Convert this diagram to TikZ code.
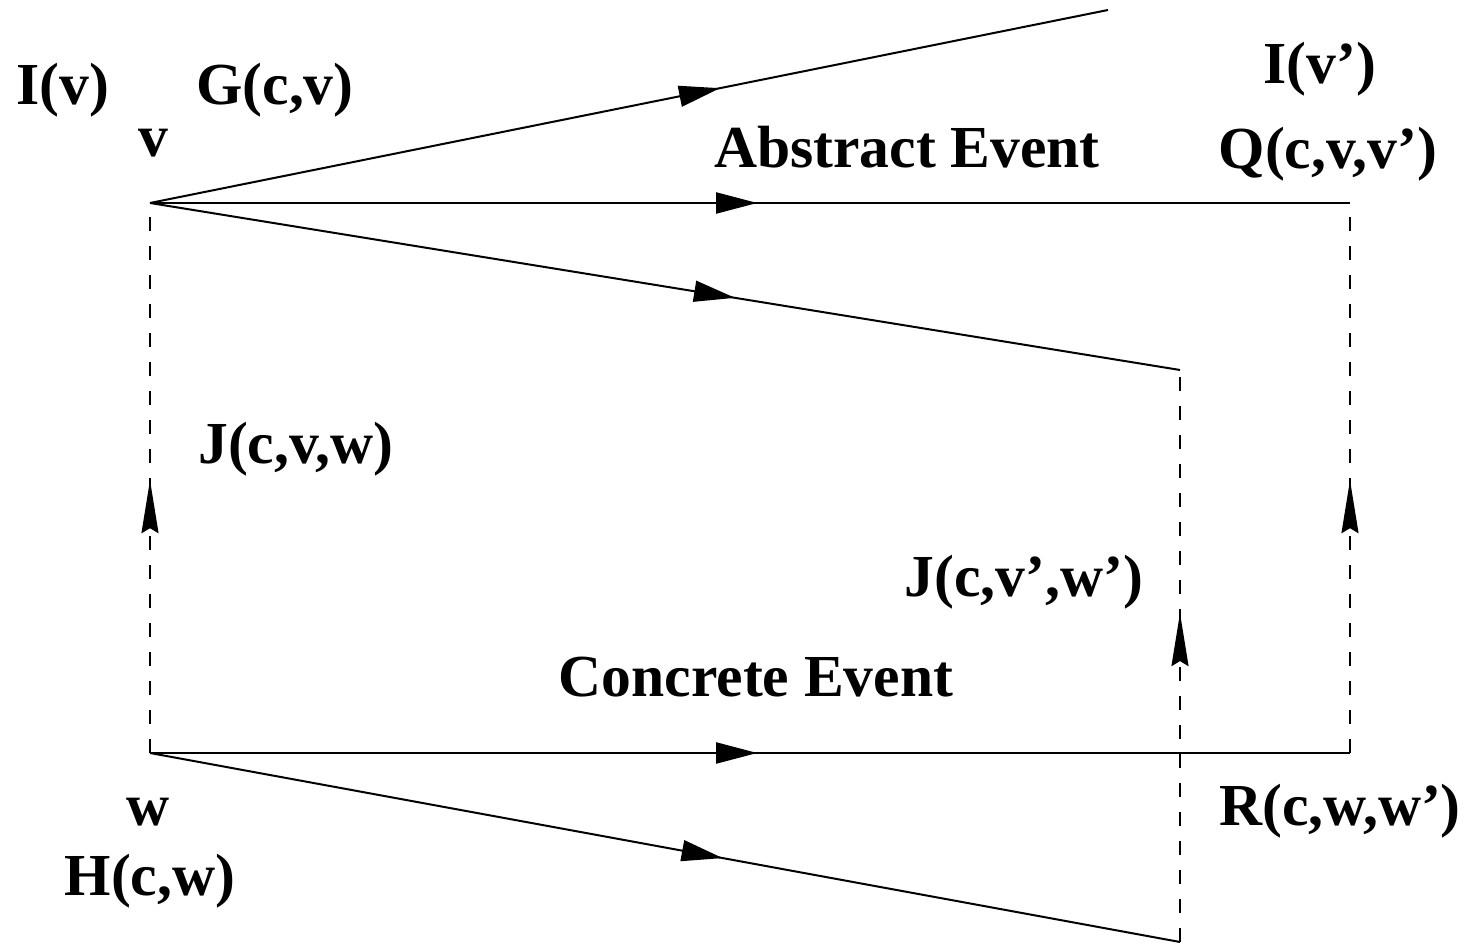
\documentclass[tikz,border=0pt]{standalone}
\usepackage{fontspec}
\setmainfont{Liberation Serif}
\usetikzlibrary{arrows.meta,decorations.markings}

\begin{document}
\begin{tikzpicture}[
      x=0.5pt,y=-0.5pt,
      lbl/.style={font=\bfseries\fontsize{29.8}{32}\selectfont,inner sep=0pt,anchor=base},
      flow/.style={line width=1pt,postaction={decorate},
        decoration={markings,mark=at position #1 with
          {\arrow{Triangle[length=20.5pt,width=10.5pt]}}}},
      refine/.style={line width=1pt,dash pattern=on 7pt off 7.5pt,postaction={decorate},
        decoration={markings,mark=at position #1 with
          {\arrow{Stealth[length=26.5pt,width=8.5pt,inset=2.5pt]}}}}
    ]
      \useasboundingbox (0,0) rectangle (1469,945);
      % states
      \coordinate (v) at (150,203);
      \coordinate (w) at (150,753);
      \coordinate (vup) at (1108,10);
      \coordinate (vnext) at (1350,203);
      \coordinate (vlow) at (1180,370);
      \coordinate (wnext) at (1350,753);
      \coordinate (wlow) at (1180,942);
      % abstract side
      \draw[flow=0.595] (v) -- (vup);
      \draw[flow=0.506] (v) -- (vnext);
      \draw[flow=0.568] (v) -- (vlow);
      % concrete side
      \draw[flow=0.506] (w) -- (wnext);
      \draw[flow=0.556] (w) -- (wlow);
      % refinement
      \draw[refine=0.496] (w) -- (v);
      \draw[refine=0.496] (wnext) -- (vnext);
      \draw[refine=0.575] (wlow) -- (vlow);
      % labels
      \node[lbl] (iv) at (63,105) {I(v)};
      \node[lbl] (gcv) at (275,105) {G(c,v)};
      \node[lbl] (vname) at (153,157) {v};
      \node[lbl] (abs) at (907,168) {Abstract Event};
      \node[lbl] (ivp) at (1320,84) {I(v')};
      \node[lbl] (qcvv) at (1328,169) {Q(c,v,v')};
      \node[lbl] (jcvw) at (296,464) {J(c,v,w)};
      \node[lbl] (jcvwp) at (1024,597) {J(c,v',w')};
      \node[lbl] (conc) at (756,697) {Concrete Event};
      \node[lbl] (wname) at (148,826) {w};
      \node[lbl] (hcw) at (150,896) {H(c,w)};
      \node[lbl] (rcww) at (1340,826) {R(c,w,w')};
    \end{tikzpicture}
\end{document}
